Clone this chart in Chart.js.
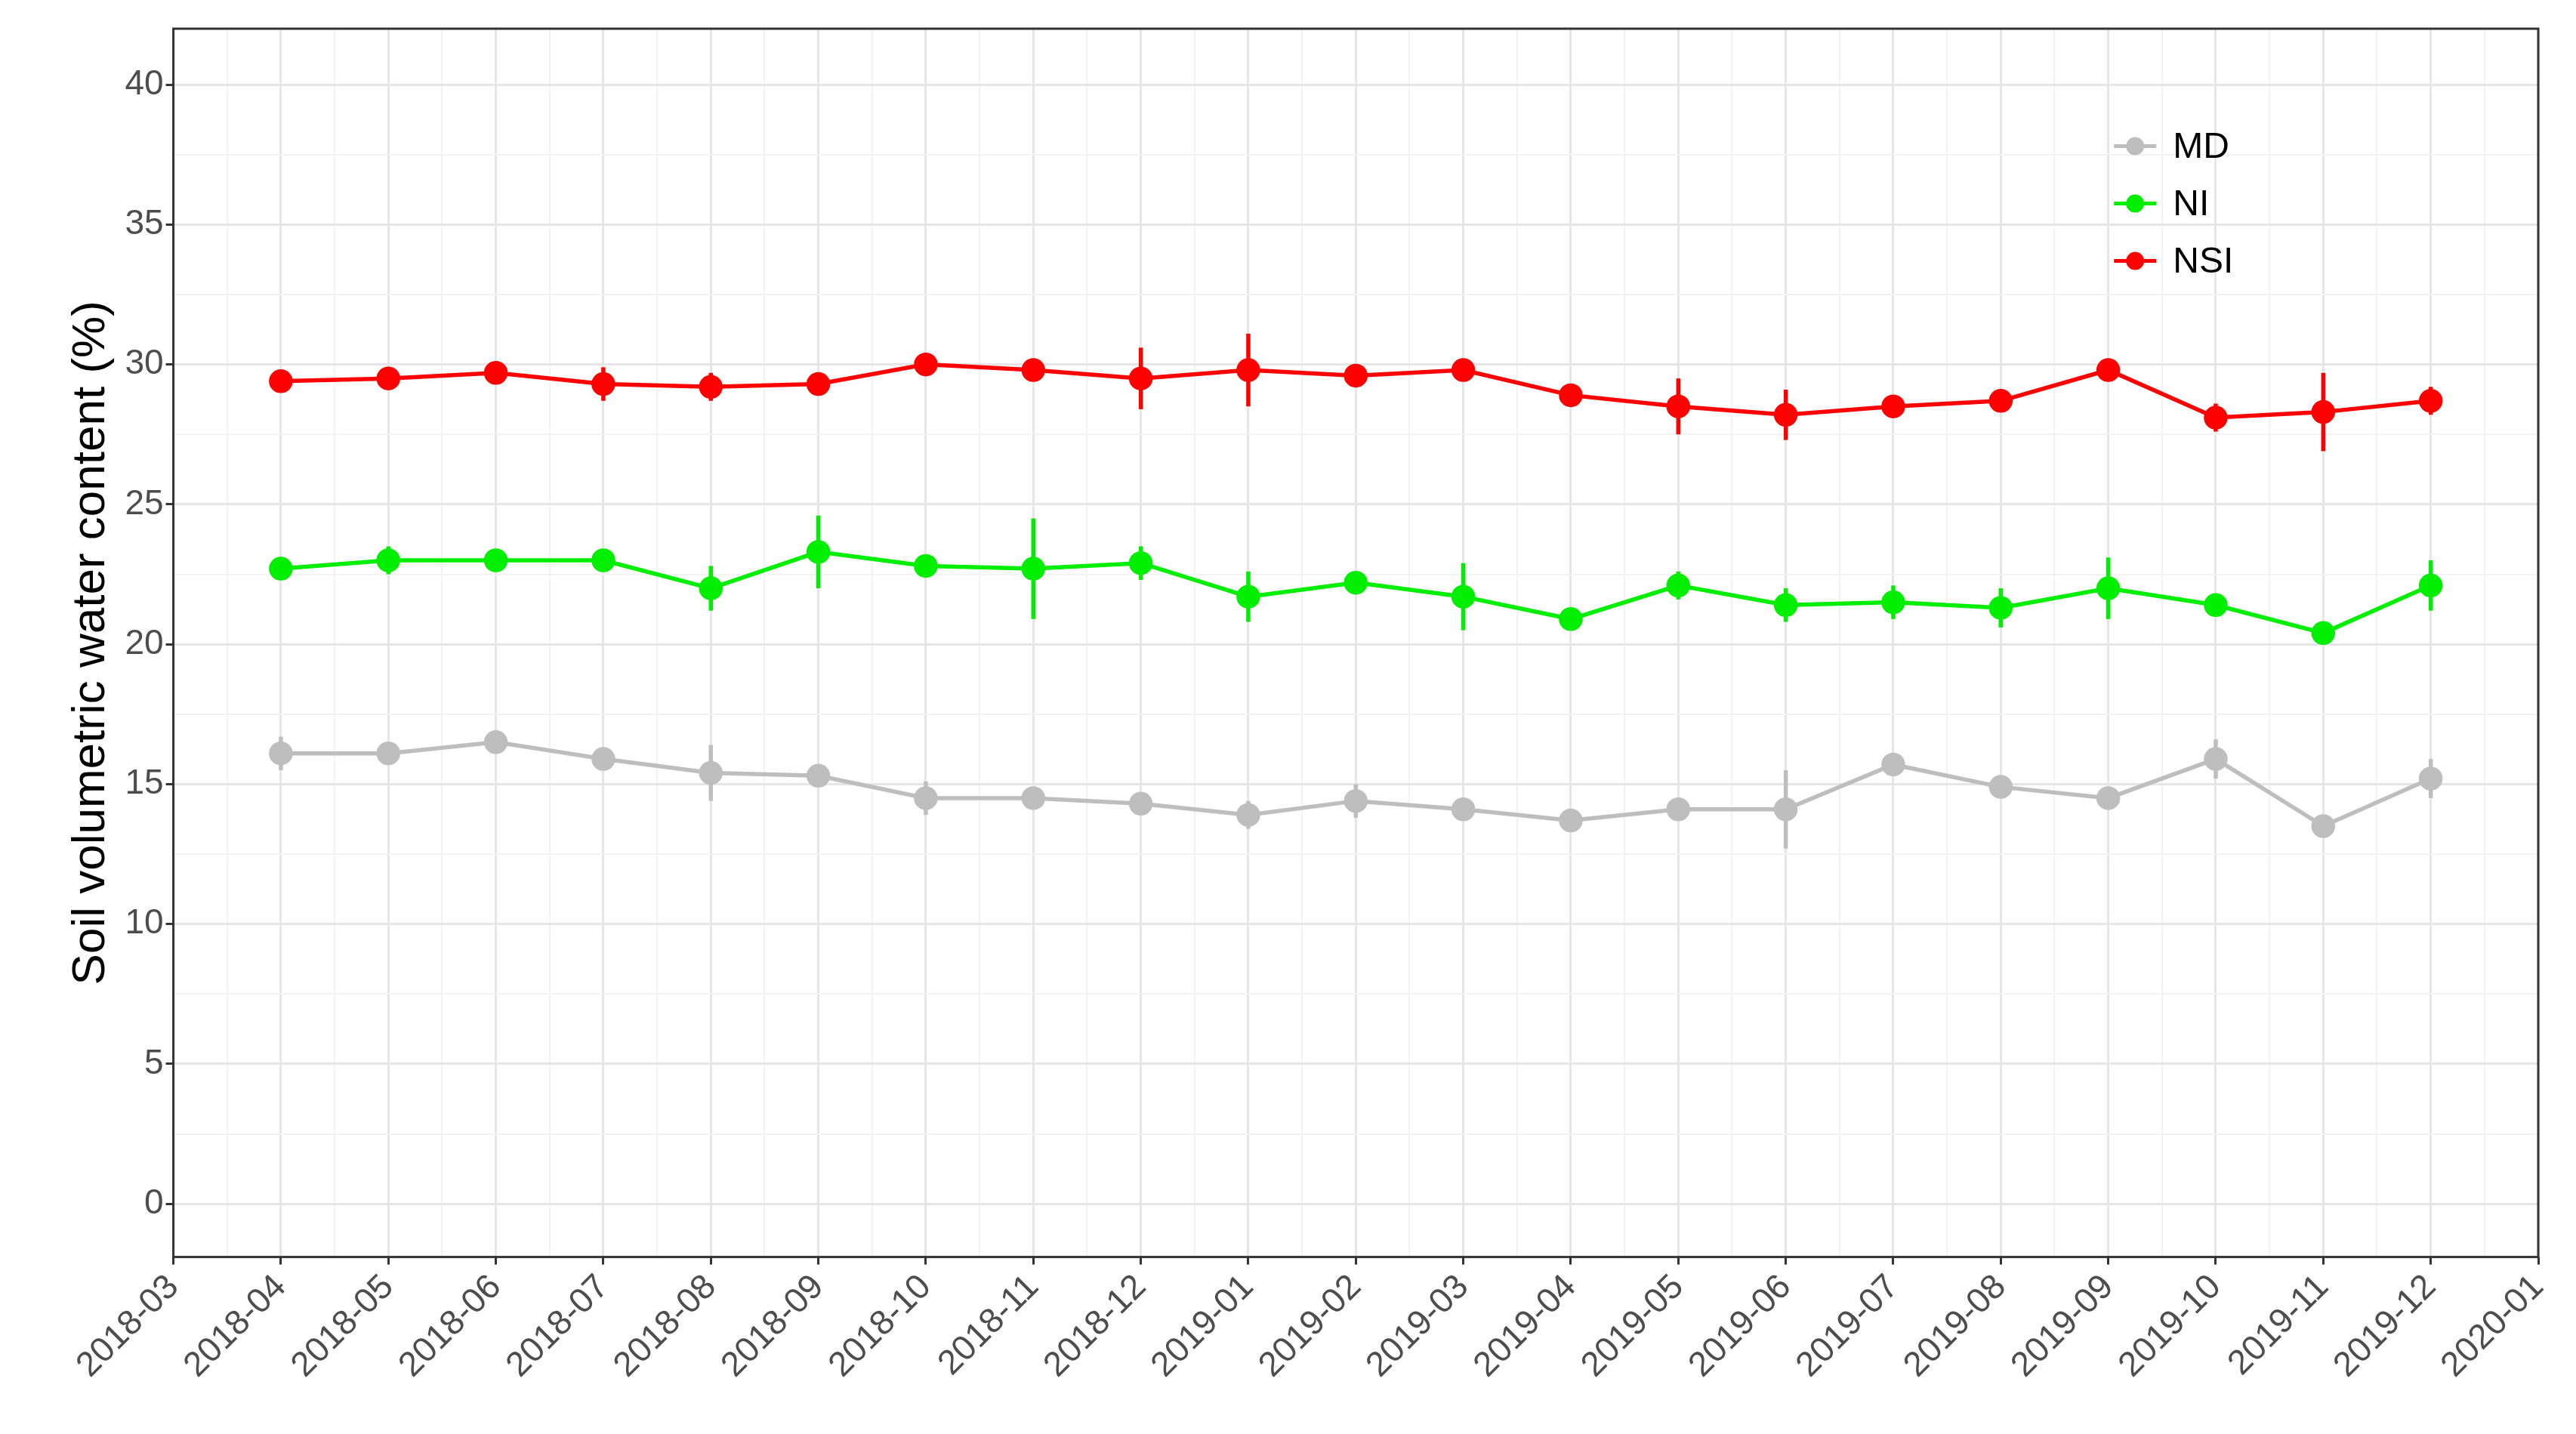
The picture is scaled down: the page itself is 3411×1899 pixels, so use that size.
<!DOCTYPE html>
<html><head><meta charset="utf-8">
<script src="https://cdn.jsdelivr.net/npm/chart.js@4"></script>
<style>html,body{margin:0;padding:0;background:#fff}#w{width:3411px;height:1899px}</style>
</head><body><div id="w"><canvas id="c"></canvas></div>
<script>
const monthLabels=["2018-03","2018-04","2018-05","2018-06","2018-07","2018-08","2018-09","2018-10","2018-11","2018-12","2019-01","2019-02","2019-03","2019-04","2019-05","2019-06","2019-07","2019-08","2019-09","2019-10","2019-11","2019-12","2020-01"];
const nsi=[29.4,29.5,29.7,29.3,29.2,29.3,30.0,29.8,29.5,29.8,29.6,29.8,28.9,28.5,28.2,28.5,28.7,29.8,28.1,28.3,28.7];
const nsiErr=[0.3,0.3,0.3,0.6,0.5,0.3,0.4,0.3,1.1,1.3,0.3,0.3,0.3,1.0,0.9,0.4,0.3,0.3,0.5,1.4,0.5];
const ni=[22.7,23.0,23.0,23.0,22.0,23.3,22.8,22.7,22.9,21.7,22.2,21.7,20.9,22.1,21.4,21.5,21.3,22.0,21.4,20.4,22.1];
const niErr=[0.3,0.5,0.3,0.4,0.8,1.3,0.4,1.8,0.6,0.9,0.3,1.2,0.3,0.5,0.6,0.6,0.7,1.1,0.3,0.3,0.9];
const md=[16.1,16.1,16.5,15.9,15.4,15.3,14.5,14.5,14.3,13.9,14.4,14.1,13.7,14.1,14.1,15.7,14.9,14.5,15.9,13.5,15.2];
const mdErr=[0.6,0.4,0.3,0.3,1.0,0.3,0.6,0.3,0.3,0.5,0.6,0.3,0.3,0.3,1.4,0.4,0.4,0.3,0.7,0.4,0.7];
const yTicks=[0,5,10,15,20,25,30,35,40];

const pts=a=>a.map((v,i)=>({x:i+1,y:v}));
const ds=(label,data,err,color)=>({label,data:pts(data),err,borderColor:color,backgroundColor:color,borderWidth:5.5,pointRadius:13,pointHoverRadius:13,tension:0});

const errPlugin={id:'err',afterDatasetsDraw(chart){
  const ctx=chart.ctx,x=chart.scales.x,y=chart.scales.y;
  chart.data.datasets.forEach(d=>{
    ctx.save();ctx.strokeStyle=d.borderColor;ctx.lineWidth=5.5;
    d.data.forEach((p,i)=>{const px=x.getPixelForValue(p.x);
      ctx.beginPath();ctx.moveTo(px,y.getPixelForValue(p.y-d.err[i]));ctx.lineTo(px,y.getPixelForValue(p.y+d.err[i]));ctx.stroke();});
    ctx.restore();
  });
  const a=chart.chartArea;ctx.save();ctx.strokeStyle='#333';ctx.lineWidth=3;ctx.strokeRect(a.left,a.top,a.right-a.left,a.bottom-a.top);
  const lx=x.getPixelForValue(18.25),ly0=y.getPixelForValue(37.8),gap=76;
  ctx.font='48px Arial, "Liberation Sans"';ctx.textBaseline='middle';
  chart.data.datasets.slice().reverse().forEach((d,k)=>{const yy=ly0+k*gap;
    ctx.strokeStyle=d.borderColor;ctx.fillStyle=d.borderColor;ctx.lineWidth=5;
    ctx.beginPath();ctx.moveTo(lx-28,yy);ctx.lineTo(lx+28,yy);ctx.stroke();
    ctx.beginPath();ctx.arc(lx,yy,12,0,Math.PI*2);ctx.fill();
    ctx.fillStyle='#000';ctx.fillText(d.label,lx+50,yy+2);});
  ctx.restore();
}};

new Chart(document.getElementById('c'),{type:'line',
 data:{datasets:[ds('NSI',nsi,nsiErr,'#FF0000'),ds('NI',ni,niErr,'#00EE00'),ds('MD',md,mdErr,'#BEBEBE')]},
 options:{responsive:true,maintainAspectRatio:false,animation:false,
  layout:{padding:{left:80,right:50,top:38,bottom:60}},
  plugins:{legend:{display:false},tooltip:{enabled:false}},
  scales:{
   x:{type:'linear',min:0,max:22,
     afterBuildTicks(s){const t=[];for(let v=0;v<=44;v++)t.push({value:v/2});s.ticks=t;},
     grid:{color:c=>(c.tick&&c.tick.value%1===0)?'#E6E6E6':'#F3F3F3',lineWidth:c=>(c.tick&&c.tick.value%1===0)?3:2,drawTicks:true,tickLength:10,tickColor:c=>(c.tick&&c.tick.value%1===0)?'#333':'rgba(0,0,0,0)'},
     border:{display:false},
     ticks:{autoSkip:false,maxRotation:45,minRotation:45,color:'#4D4D4D',font:{size:46,family:'Arial, "Liberation Sans"'},
       callback:v=>v%1===0?monthLabels[v]:''}},
   y:{min:-1.9,max:42,
     afterBuildTicks(s){const t=[];for(let v=0;v<=40;v+=2.5)t.push({value:v});s.ticks=t;},
     grid:{color:c=>(c.tick&&c.tick.value%5===0)?'#E6E6E6':'#F3F3F3',lineWidth:c=>(c.tick&&c.tick.value%5===0)?3:2,tickLength:10,tickColor:c=>(c.tick&&c.tick.value%5===0)?'#333':'rgba(0,0,0,0)'},
     border:{display:false},
     title:{display:true,text:'Soil volumetric water content (%)',color:'#000',font:{size:62,family:'Arial, "Liberation Sans"'}},
     ticks:{autoSkip:false,color:'#4D4D4D',font:{size:46,family:'Arial, "Liberation Sans"'},
       callback:v=>v%5===0?String(v):''}}
  }},
 plugins:[errPlugin]});
</script></body></html>
